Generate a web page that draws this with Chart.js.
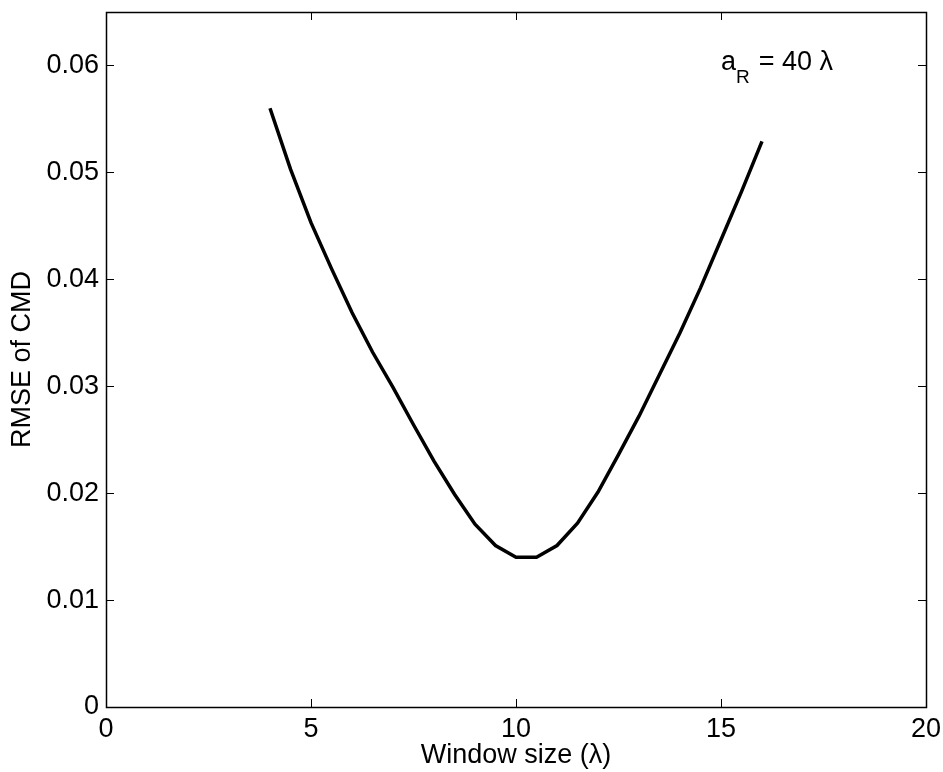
<!doctype html>
<html lang="en">
<head>
<meta charset="utf-8">
<title>RMSE of CMD vs window size</title>
<script src="https://cdn.jsdelivr.net/npm/chart.js@4/dist/chart.umd.min.js"></script>
<style>
    html, body { margin: 0; padding: 0; background: #fff; }
    #wrap { width: 943px; height: 772px; position: relative; }
</style>
</head>
<body>
<div id="wrap"><canvas id="chart"></canvas></div>
<script>
    // data
    const windowSizes = [4, 4.5, 5, 5.5, 6, 6.5, 7, 7.5, 8, 8.5, 9, 9.5, 10, 10.5, 11, 11.5, 12, 12.5, 13, 13.5, 14, 14.5, 15, 15.5, 16];
    const rmse = [0.0560, 0.0503, 0.0453, 0.0410, 0.0369, 0.0332, 0.0299, 0.0264, 0.0230, 0.0199, 0.0171, 0.0151, 0.0140,
                  0.0140, 0.0151, 0.0172, 0.0201, 0.0236, 0.0272, 0.0311, 0.0350, 0.0392, 0.0437, 0.0482, 0.0529];
    const xTicks = [0, 5, 10, 15, 20];
    const yTicks = [0, 0.01, 0.02, 0.03, 0.04, 0.05, 0.06];

    const FONT = 'Liberation Sans, Arial, Helvetica, sans-serif';

    // matlab style box + inward ticks on all four sides
    const boxPlugin = {
        id: 'box',
        afterDraw(chart) {
            const ctx = chart.ctx, a = chart.chartArea;
            const xs = chart.scales.x, ys = chart.scales.y;
            const len = 8;
            ctx.save();
            ctx.strokeStyle = '#000';
            ctx.lineWidth = 1;
            ctx.beginPath();
            xTicks.forEach(v => {
                const px = Math.round(xs.getPixelForValue(v)) + 0.5;
                ctx.moveTo(px, a.bottom); ctx.lineTo(px, a.bottom - len);
                ctx.moveTo(px, a.top); ctx.lineTo(px, a.top + len);
            });
            yTicks.forEach(v => {
                const py = Math.round(ys.getPixelForValue(v)) + 0.5;
                ctx.moveTo(a.left, py); ctx.lineTo(a.left + len, py);
                ctx.moveTo(a.right, py); ctx.lineTo(a.right - len, py);
            });
            ctx.stroke();
            ctx.lineWidth = 1.5;
            ctx.strokeRect(Math.round(a.left) + 0.5, Math.round(a.top) + 0.5,
                Math.round(a.right - a.left), Math.round(a.bottom - a.top));

            // annotation a_R = 40 λ
            ctx.fillStyle = '#000';
            ctx.textBaseline = 'alphabetic';
            ctx.textAlign = 'left';
            let x = xs.getPixelForValue(15), y = ys.getPixelForValue(0.0596);
            ctx.font = '27px ' + FONT;
            ctx.fillText('a', x, y);
            x += ctx.measureText('a').width;
            ctx.font = '19px ' + FONT;
            ctx.fillText('R', x, y + 13);
            x += ctx.measureText('R').width + 9;
            ctx.font = '27px ' + FONT;
            ctx.fillText('= 40 \u03bb', x, y);
            ctx.restore();
        }
    };

    new Chart(document.getElementById('chart').getContext('2d'), {
        type: 'line',
        data: {
            datasets: [{
                data: windowSizes.map((w, i) => ({x: w, y: rmse[i]})),
                borderColor: '#000',
                borderWidth: 3.5,
                pointRadius: 0,
                fill: false,
                tension: 0
            }]
        },
        options: {
            responsive: true,
            maintainAspectRatio: false,
            animation: false,
            layout: {padding: {top: 12, right: 17, left: 0, bottom: 0}},
            plugins: {legend: {display: false}, tooltip: {enabled: false}},
            scales: {
                x: {
                    type: 'linear',
                    min: 0, max: 20,
                    grid: {display: false, drawTicks: false},
                    border: {display: false},
                    afterBuildTicks: s => { s.ticks = xTicks.map(v => ({value: v})); },
                    afterFit: s => { s.height = 65; s.paddingLeft = 0; s.paddingRight = 0; },
                    ticks: {
                        color: '#000', padding: 6, maxRotation: 0,
                        font: {family: FONT, size: 27}
                    },
                    title: {
                        display: true, text: 'Window size (\u03bb)', color: '#000',
                        font: {family: FONT, size: 27}, padding: {top: 0, bottom: 0}
                    }
                },
                y: {
                    min: 0, max: 0.065,
                    grid: {display: false, drawTicks: false},
                    border: {display: false},
                    afterBuildTicks: s => { s.ticks = yTicks.map(v => ({value: v})); },
                    afterFit: s => { s.width = 106; s.paddingTop = 0; s.paddingBottom = 0; },
                    ticks: {
                        color: '#000', padding: 7,
                        font: {family: FONT, size: 27},
                        callback: v => String(Math.round(v * 100) / 100)
                    },
                    title: {
                        display: true, text: 'RMSE of CMD', color: '#000',
                        font: {family: FONT, size: 27}, padding: {top: 6, bottom: 0}
                    }
                }
            }
        },
        plugins: [boxPlugin]
    });
</script>
</body>
</html>
